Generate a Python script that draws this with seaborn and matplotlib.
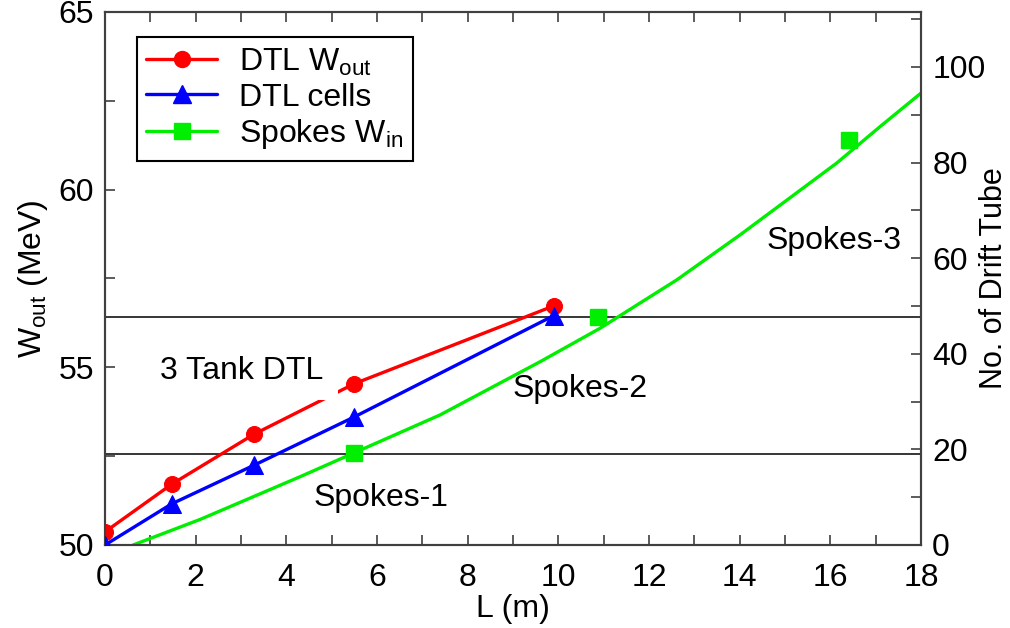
import matplotlib
matplotlib.use("Agg")
import matplotlib.pyplot as plt
import seaborn as sns
import pandas as pd
from matplotlib.lines import Line2D
from matplotlib.ticker import MultipleLocator

# ---- data ----
dtl_L = [0.0, 1.47, 3.29, 5.50, 9.90]
dtl_wout = [50.37, 51.71, 53.12, 54.54, 56.73]
dtl_cells = [0.0, 8.6, 16.7, 26.8, 48.0]
spokes_L = [5.49, 10.88, 16.40]
spokes_win = [52.59, 56.42, 61.41]
curve_L = [0.62, 2.10, 4.30, 5.49, 7.39, 9.60, 10.92, 12.61, 14.01, 16.14, 17.10, 18.0]
curve_W = [50.0, 50.72, 51.92, 52.59, 53.66, 55.16, 56.10, 57.46, 58.73, 60.75, 61.78, 62.72]
section_levels = [52.57, 56.42]
section_labels = ["3 Tank DTL", "Spokes-1", "Spokes-2", "Spokes-3"]
section_label_pos = [(1.21, 54.9), (4.59, 51.32), (8.98, 54.39), (14.6, 58.56)]

sns.set_theme(style="white")
plt.rcParams["font.family"] = ["Liberation Sans", "DejaVu Sans"]
plt.rcParams["mathtext.fontset"] = "custom"
plt.rcParams["mathtext.rm"] = "Liberation Sans"
plt.rcParams["mathtext.it"] = "Liberation Sans"
plt.rcParams["text.color"] = "black"
plt.rcParams["axes.labelcolor"] = "black"
plt.rcParams["xtick.color"] = "black"
plt.rcParams["ytick.color"] = "black"

FS = 23
RED, BLUE, GREEN = "#ff0000", "#0000ff", "#00ee00"
SPINE = "#404040"

fig = plt.figure(figsize=(10.10, 6.28), dpi=100)
ax = fig.add_axes([0.104, 0.1322, 0.808, 0.8487])
ax2 = ax.twinx()

df_dtl = pd.DataFrame({"L": dtl_L, "W": dtl_wout, "cells": dtl_cells})
df_curve = pd.DataFrame({"L": curve_L, "W": curve_W})
df_sp = pd.DataFrame({"L": spokes_L, "W": spokes_win})

for lv in section_levels:
    ax.axhline(lv, color="black", lw=1.1, zorder=1)

sns.lineplot(data=df_curve, x="L", y="W", color=GREEN, lw=2.4, ax=ax, zorder=2)
ax.plot(df_sp["L"], df_sp["W"], ls="none", marker="s", ms=12, color=GREEN,
        mec=GREEN, zorder=3)
sns.lineplot(data=df_dtl, x="L", y="W", color=RED, lw=2.4, marker="o", ms=11.5,
             mec=RED, ax=ax, zorder=3)

for txt, (tx, ty) in zip(section_labels, section_label_pos):
    kw = {}
    if txt == "3 Tank DTL":
        kw["bbox"] = dict(boxstyle="square,pad=0.45", fc="white", ec="none")
    ax.text(tx, ty, txt, fontsize=FS, ha="left", va="center", zorder=5, **kw)

sns.lineplot(data=df_dtl, x="L", y="cells", color=BLUE, lw=2.4, marker="^", ms=12.5,
             mec=BLUE, ax=ax2, zorder=3)

ax.set_xlim(0, 18)
ax.set_ylim(50, 65)
ax2.set_ylim(0, 111.5)
ax.xaxis.set_major_locator(MultipleLocator(2))
ax.xaxis.set_minor_locator(MultipleLocator(1))
ax.yaxis.set_major_locator(MultipleLocator(5))
ax.yaxis.set_minor_locator(MultipleLocator(2.5))
ax2.yaxis.set_major_locator(MultipleLocator(20))
ax2.yaxis.set_minor_locator(MultipleLocator(10))

for a in (ax, ax2):
    for s in a.spines.values():
        s.set_color(SPINE)
        s.set_linewidth(1.5)
ax.tick_params(axis="x", which="both", direction="in", top=True, bottom=True,
               labelsize=FS, color=SPINE, width=1.2, length=7, pad=13)
ax.tick_params(axis="y", which="both", direction="in", left=True, right=False,
               labelsize=FS, color=SPINE, width=1.2, length=7, pad=8)
ax2.tick_params(axis="y", which="both", direction="in", right=True, left=False,
                labelsize=FS, color=SPINE, width=1.2, length=7, pad=8)

ax.set_xlabel("L (m)", fontsize=FS, labelpad=1)
ax.set_ylabel(r"W$_{\mathregular{out}}$ (MeV)", fontsize=FS, labelpad=6)
ax2.set_ylabel("No. of Drift Tube", fontsize=22)
ax2.yaxis.set_label_coords(1.071, 0.5)

handles = [
    Line2D([], [], color=RED, lw=2.4, marker="o", ms=11.5, mec=RED),
    Line2D([], [], color=BLUE, lw=2.4, marker="^", ms=12.5, mec=BLUE),
    Line2D([], [], color=GREEN, lw=2.4, marker="s", ms=12, mec=GREEN),
]
labels = [r"DTL W$_{\mathregular{out}}$", "DTL cells", r"Spokes W$_{\mathregular{in}}$"]
if ax.get_legend():
    ax.get_legend().remove()
if ax2.get_legend():
    ax2.get_legend().remove()
leg = ax2.legend(handles, labels, loc="upper left", bbox_to_anchor=(0.039, 0.953),
                 borderaxespad=0, fontsize=FS, frameon=True, fancybox=False,
                 edgecolor="black", handlelength=2.2, handletextpad=0.7,
                 labelspacing=0.15, borderpad=0.3)
leg.get_frame().set_linewidth(1.5)
leg.get_frame().set_alpha(1)

fig.savefig("out.png", dpi=100)
